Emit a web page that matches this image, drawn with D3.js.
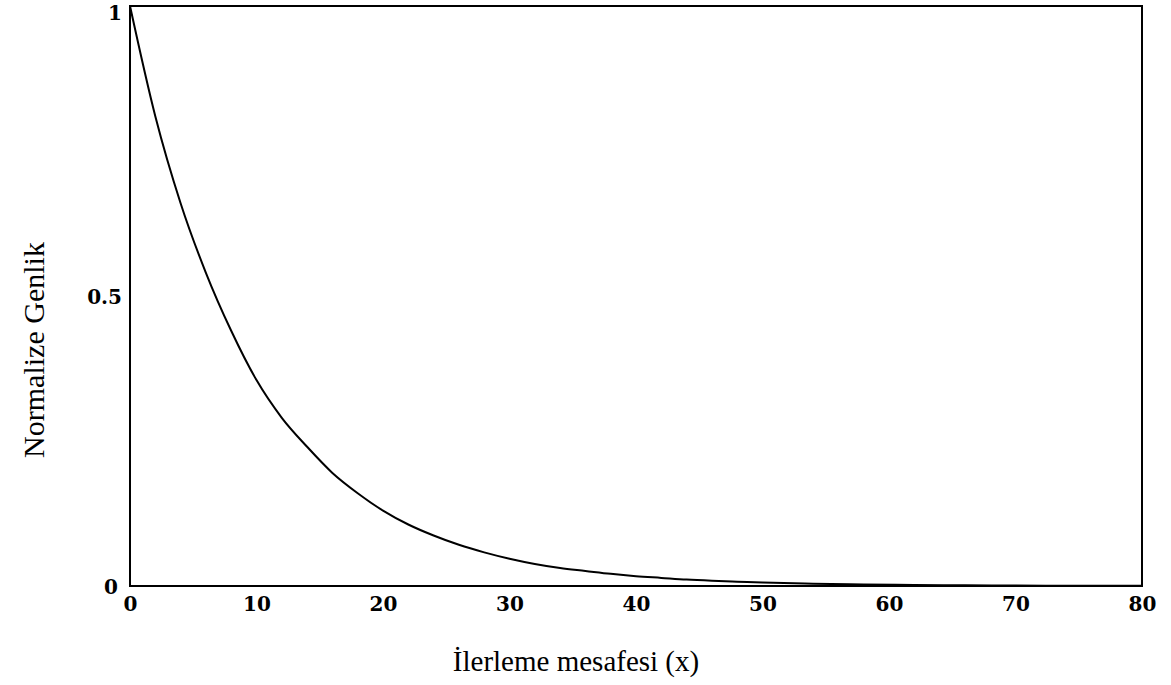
<!DOCTYPE html>
<html>
<head>
<meta charset="utf-8">
<script src="https://cdn.jsdelivr.net/npm/d3@7"></script>
<style>
  body { margin: 0; background: #fff; }
  text { fill: #000; }
</style>
</head>
<body>
<script>
const w = 1171;
const h = 685;
const margin = { left: 130, right: 29, top: 6, bottom: 99 };

// distance (x) and normalized amplitude
const xs = [0, 2, 4, 6, 8, 10, 12, 14, 16, 18, 20, 22, 24, 26, 28, 30, 32, 34, 36, 38, 40, 42, 44, 46, 48, 50, 54, 58, 62, 66, 70, 75, 80];
const amp = [1.0, 0.81, 0.66, 0.54, 0.44, 0.355, 0.29, 0.24, 0.195, 0.16, 0.13, 0.106, 0.087, 0.071, 0.058, 0.047, 0.038, 0.031, 0.026, 0.021, 0.017, 0.014, 0.011, 0.009, 0.0075, 0.006, 0.004, 0.0027, 0.0018, 0.0012, 0.0008, 0.0005, 0.0003];
const xTicks = [0, 10, 20, 30, 40, 50, 60, 70, 80];
const yTicks = [0, 0.5, 1];
const xTitle = "İlerleme mesafesi (x)";
const yTitle = "Normalize Genlik";

const data = xs.map((x, i) => ({ x: x, y: amp[i] }));

const xScale = d3.scaleLinear().domain([0, 80]).range([margin.left, w - margin.right]);
const yScale = d3.scaleLinear().domain([0, 1]).range([h - margin.bottom, margin.top]);

const svg = d3.select("body").append("svg")
  .attr("width", w)
  .attr("height", h);

// frame
svg.append("rect")
  .attr("x", xScale(0))
  .attr("y", yScale(1))
  .attr("width", xScale(80) - xScale(0))
  .attr("height", yScale(0) - yScale(1))
  .attr("fill", "none")
  .attr("stroke", "#000")
  .attr("stroke-width", 2);

const xAxis = d3.axisBottom(xScale).tickValues(xTicks).tickSize(0).tickPadding(11).tickFormat(d3.format("d"));
const yAxis = d3.axisLeft(yScale).tickValues(yTicks).tickSize(0).tickPadding(10).tickFormat(d => d === 0.5 ? "0.5" : d3.format("d")(d));

svg.append("g")
  .attr("transform", "translate(0," + yScale(0) + ")")
  .call(xAxis)
  .call(g => g.select(".domain").remove())
  .selectAll("text")
  .style("font-family", "'DejaVu Serif', serif")
  .style("font-weight", "bold")
  .style("font-size", "20px")
  .attr("dy", "0.71em");

svg.append("g")
  .attr("transform", "translate(" + xScale(0) + ",0)")
  .call(yAxis)
  .call(g => g.select(".domain").remove())
  .selectAll("text")
  .style("font-family", "'DejaVu Serif', serif")
  .style("font-weight", "bold")
  .style("font-size", "20px")
  .attr("dx", d => d === 0 ? "-0.1em" : "0.1em")
  .attr("dy", d => d === 1 ? "0.65em" : "0.35em");

// curve
const line = d3.line()
  .x(d => xScale(d.x))
  .y(d => yScale(d.y))
  .curve(d3.curveMonotoneX);

svg.append("path")
  .datum(data)
  .attr("d", line)
  .attr("fill", "none")
  .attr("stroke", "#000")
  .attr("stroke-width", 2);

// titles
svg.append("text")
  .attr("x", 576)
  .attr("y", 671)
  .attr("text-anchor", "middle")
  .style("font-family", "'Liberation Serif', serif")
  .style("font-size", "29px")
  .text(xTitle);

svg.append("text")
  .attr("transform", "translate(44,350) rotate(-90)")
  .attr("text-anchor", "middle")
  .style("font-family", "'Liberation Serif', serif")
  .style("font-size", "30px")
  .text(yTitle);
</script>
</body>
</html>
